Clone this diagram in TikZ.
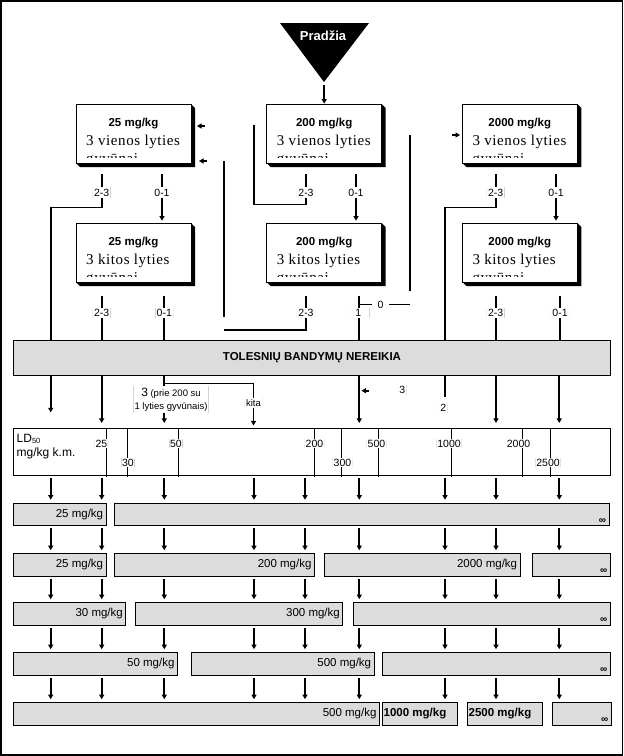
\documentclass[tikz,border=0pt]{standalone}
\usepackage{fontspec}
\setmainfont{Liberation Sans}
\newfontfamily\seriff[LetterSpace=4]{Liberation Serif}
\usetikzlibrary{arrows.meta}
\definecolor{barfill}{RGB}{220,220,220}
\definecolor{edgegray}{RGB}{212,212,212}
\tikzset{
 conn/.style={line width=1.7pt},
 arr/.style={conn,-{Triangle[width=5pt,length=4.5pt]}},
 ubox/.style={draw,line width=0.8pt,fill=white,minimum width=115pt,minimum height=59pt,inner sep=0pt},
 ttl/.style={font=\fontsize{11.5}{13}\selectfont\bfseries,inner sep=0pt},
 serl/.style={font=\seriff\fontsize{15}{17}\selectfont,inner sep=0pt,anchor=base west},
 lab/.style={fill=white,inner sep=1.5pt,font=\fontsize{10.5}{12}\selectfont,minimum width=18pt,
   path picture={\draw[edgegray,line width=1pt] (path picture bounding box.north west) -- (path picture bounding box.south west)
     (path picture bounding box.north east) -- (path picture bounding box.south east);}},
 labp/.style={fill=white,inner sep=1.5pt,font=\fontsize{10.5}{12}\selectfont},
 bar/.style={draw,line width=0.7pt,fill=barfill,inner sep=0pt},
 bart/.style={font=\fontsize{11.5}{13}\selectfont,inner sep=0pt,anchor=east},
 barb/.style={font=\fontsize{11.5}{13}\selectfont\bfseries,inner sep=0pt,anchor=west},
 inf/.style={font=\fontsize{10}{10}\selectfont\bfseries,inner sep=0pt,anchor=base east},
 tick/.style={line width=0.8pt},
}
\newcommand\ubx[6]{%
 \fill (#2+57.5,#3) -- (#2+61.5,#3+4) -- (#2+61.5,#3+63) -- (#2-53.5,#3+63) -- (#2-57.5,#3+59) -- cycle;
 \node[ubox] (#1) at (#2,#3+29.5) {};
 \node[ttl] (#1t) at (#2,#3+20) {#4};
 \node[serl] (#1s) at (#2-47.5,#3+41) {#5};
 \begin{scope}
  \clip (#2-56,#3+2) rectangle (#2+56,#3+53);
  \node[serl] (#1g) at (#2-47.5,#3+59.5) {#6};
 \end{scope}}
\begin{document}
\begin{tikzpicture}[x=1pt,y=-1pt]
\useasboundingbox (0,0) rectangle (624,756);
\draw[line width=1.2pt] (1,1) rectangle (622.5,755);
% columns
\coordinate (c1) at (50.7,0);
\coordinate (c2) at (101.7,0);
\coordinate (c3) at (164.3,0);
\coordinate (c4) at (254,0);
\coordinate (c5) at (305,0);
\coordinate (c6) at (359.3,0);
\coordinate (c7) at (445,0);
\coordinate (c8) at (496,0);
\coordinate (c9) at (559.3,0);
% start triangle
\fill (280,23) -- (369,23) -- (324,82) -- cycle;
\node[font=\fontsize{13}{15}\selectfont\bfseries,text=white,inner sep=0pt] (start) at (323,36) {Pradžia};
% boxes
\ubx{bAv}{133.5}{104}{25 mg/kg}{3 vienos lyties}{gyvūnai}
\ubx{bBv}{324.2}{104}{200 mg/kg}{3 vienos lyties}{gyvūnai}
\ubx{bCv}{519.8}{104}{2000 mg/kg}{3 vienos lyties}{gyvūnai}
\ubx{bAk}{133.5}{223}{25 mg/kg}{3 kitos lyties}{gyvūnai}
\ubx{bBk}{324.2}{223}{200 mg/kg}{3 kitos lyties}{gyvūnai}
\ubx{bCk}{519.8}{223}{2000 mg/kg}{3 kitos lyties}{gyvūnai}
\coordinate (apex) at (324.2,85);
\draw[arr,line width=2pt] (apex) -- (bBv.north);
% big bar
\node[bar,minimum width=597.4pt,minimum height=35pt,font=\fontsize{11.5}{13}\selectfont\bfseries] (tol) at (312,357.5) {TOLESNIŲ BANDYMŲ NEREIKIA};
% row 1 labels
\node[lab] (u1) at (101.7,192.5) {2-3};
\node[lab] (u2) at (162,192.5) {0-1};
\node[lab] (u3) at (306,192.5) {2-3};
\node[lab] (u4) at (356,192.5) {0-1};
\node[lab] (u5) at (495.7,192.5) {2-3};
\node[lab] (u6) at (556,192.5) {0-1};
\foreach \l in {u1,u2,u3,u4,u5,u6} \draw[conn] (\l.north) ++(0,-13) -- (\l.north);
\coordinate (k1) at (254,125);
\coordinate (k2) at (224,161);
\coordinate (k3) at (224,317);
\coordinate (k4) at (410,135);
\coordinate (k5) at (410,291);
\coordinate (k7) at (224,330);
\coordinate (s1) at (204.5,126);
\coordinate (s2) at (206.5,161);
\coordinate (s3) at (452,135);
\coordinate (s4) at (368.5,390.7);
\draw[conn] (u1.south) -- ++(0,9.5) -| (tol.north -| c1);
\draw[arr,shorten >=2pt] (u2.south) -- (bAk.north -| u2);
\draw[conn] (u3.south) -- ++(0,6.5) -| (k1);
\draw[arr] (s1) -- ++(-7.5,0);
\draw[arr] (s2) -- ++(-7.5,0);
\draw[conn] (k2) -- (k3);
\draw[arr,shorten >=2pt] (u4.south) -- (bBk.north -| u4);
\draw[conn] (u5.south) -- ++(0,9.5) -| (tol.north -| c7);
\draw[arr,shorten >=2pt] (u6.south) -- (bCk.north -| u6);
\draw[conn] (k4) -- (k5);
\draw[arr] (s3) -- ++(8,0);
% row 2 labels
\node[lab] (d1) at (101.7,313) {2-3};
\node[lab] (d2) at (164.3,313) {0-1};
\node[lab] (d3) at (306,313) {2-3};
\node[lab,minimum width=23pt] (d4) at (358.3,313) {1};
\node[lab] (d5) at (495.7,313) {2-3};
\node[lab] (d6) at (560,313) {0-1};
\node[labp,minimum width=17pt] (d0) at (380.5,304.5) {0};
\foreach \l in {d1,d2,d3,d5,d6} \draw[conn] (\l.north) ++(0,-12) -- (\l.north);
\draw[conn] (d4.north -| c6) ++(0,-12) -- (d4.north -| c6);
\draw[conn] (d0.west -| c6) -- (d0.west);
\draw[conn] (d0.east) -- (d0.east -| k4);
\draw[conn] (d1.south) -- (tol.north -| d1);
\draw[conn] (d2.south) -- (tol.north -| d2);
\draw[conn] (d3.south) |- (k7);
\draw[conn] (d4.south -| c6) -- (tol.north -| c6);
\draw[conn] (d5.south) -- (tol.north -| d5);
\draw[conn] (d6.south) -- (tol.north -| d6);
% LD50 scale
\node[draw,line width=0.8pt,fill=white,minimum width=597.4pt,minimum height=46.7pt,inner sep=0pt] (ld) at (312,451.65) {};
\node[font=\fontsize{12}{14}\selectfont,align=left,anchor=west,inner sep=0pt] (ldt) at (16.5,447) {LD\raisebox{-0.5pt}{\fontsize{7.5}{8}\selectfont 50}\\mg/kg k.m.};
\foreach \x in {106.7,127.7,178.3,314.3,341,378.3,451.7,522.3,550.7} \draw[tick] (\x,428.3) -- (\x,477);
\foreach \n/\x/\y/\t in {v25/101.5/443.5/25, v30/128/462.5/30, v50/176/443.5/50, v200/314.5/443.5/200, v300/342.5/462.5/300, v500/376.5/443.5/500, v1000/449/443.5/1000, v2000/518.5/443.5/2000, v2500/548/462.5/2500}
  \node[lab,minimum width=0pt,inner sep=1pt,font=\fontsize{10.5}{12}\selectfont] (\n) at (\x,\y) {\t};
% between big bar and scale
\node[lab,align=center,font=\fontsize{9.5}{12.7}\selectfont] (prie) at (171,399.5) {{\fontsize{12}{12}\selectfont 3} (prie 200 su\\1 lyties gyvūnais)};
\node[lab,minimum width=0pt,font=\fontsize{9.5}{12}\selectfont] (kita) at (253.5,402.7) {kita};
\node[lab,minimum width=0pt] (t3) at (402.3,390) {3};
\node[lab,minimum width=0pt] (t2) at (443.3,408.3) {2};
\draw[arr] (tol.south -| c1) -- ++(0,37);
\draw[arr,shorten >=5pt] (tol.south -| c2) -- (ld.north -| c2);
\draw[conn] (tol.south -| c3) -- (prie.north -| c3);
\draw[conn] (tol.south -| c3) -- ++(0,8) -| (kita.north);
\draw[arr,shorten >=5pt] (prie.south -| c3) -- (ld.north -| c3);
\draw[arr,shorten >=2.5pt] (kita.south) -- (ld.north -| kita);
\draw[arr,shorten >=5pt] (tol.south -| c6) -- (ld.north -| c6);
\draw[arr] (s4) -- ++(-7,0);
\draw[conn] (tol.south -| c7) -- ++(0,21.7);
\draw[arr,shorten >=5pt] (tol.south -| c8) -- (ld.north -| c8);
\draw[arr,shorten >=5pt] (tol.south -| c9) -- (ld.north -| c9);
% result bars
\foreach \n/\cx/\cy/\w in {r1a/59.65/514.25/92.7, r1b/361.8/514.25/495,
  r2a/59.65/564.75/92.7, r2b/214.3/564.75/200, r2c/422.15/564.75/195.7, r2d/571.5/564.75/78.4,
  r3a/69.5/613.75/112.4, r3b/239.2/613.75/207, r3c/482/613.75/257.4,
  r4a/95.3/663.75/164, r4b/282.5/663.75/183, r4c/496.5/663.75/228.4,
  r5a/196.3/713.75/366, r5b/419.8/713.75/75, r5c/504.8/713.75/75, r5d/582/713.75/59.4}
  \node[bar,minimum width=\w pt,minimum height=22.5pt] (\n) at (\cx,\cy) {};
\foreach \n/\t in {r1a/{25 mg/kg}, r2a/{25 mg/kg}, r2b/{200 mg/kg}, r2c/{2000 mg/kg}, r3a/{30 mg/kg}, r3b/{300 mg/kg}, r4a/{50 mg/kg}, r4b/{500 mg/kg}, r5a/{500 mg/kg}}
  \node[bart] (\n t) at ([xshift=-3pt]\n.east) {\t};
\node[barb] (r5bt) at ([xshift=1.5pt]r5b.west) {1000 mg/kg};
\node[barb] (r5ct) at ([xshift=1.5pt]r5c.west) {2500 mg/kg};
\foreach \n in {r1b,r2d,r3c,r4c,r5d}
  \node[inf] (\n i) at ([xshift=-3.5pt,yshift=2.5pt]\n.south east) {∞};
\foreach \u/\d in {ld/r1a,r1a/r2a,r2a/r3a,r3a/r4a,r4a/r5a}
  \foreach \c in {c1,c2,c3,c4,c5,c6,c7,c8,c9}
    \draw[arr,shorten <=2.5pt,shorten >=3pt] (\u.south -| \c) -- (\d.north -| \c);
\end{tikzpicture}
\end{document}
